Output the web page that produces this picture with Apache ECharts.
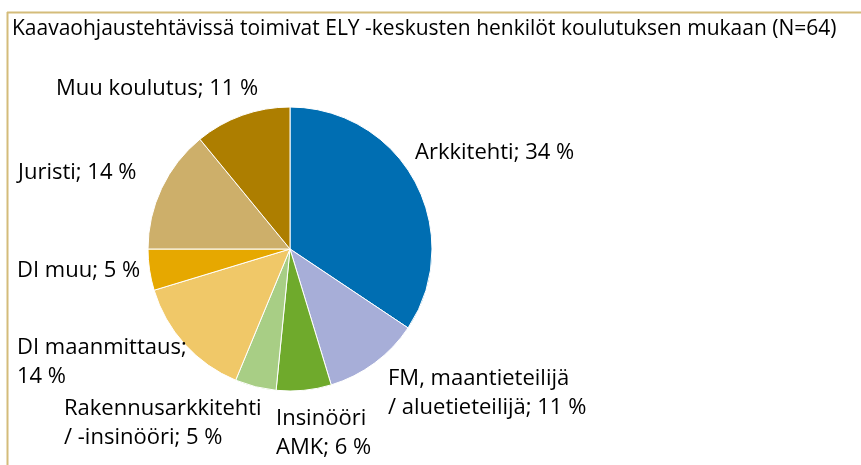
<!DOCTYPE html>
<html><head><meta charset="utf-8">
<script src="https://cdn.jsdelivr.net/npm/echarts@6/dist/echarts.min.js"></script>
<style>html,body{margin:0;padding:0;background:#fff}#c{width:861px;height:465px}</style>
</head><body><div id="c"></div>
<script>
var titleText = 'Kaavaohjaustehtävissä toimivat ELY -keskusten henkilöt koulutuksen mukaan (N=64)';
var categories = ['Arkkitehti', 'FM, maantieteilijä\n/ aluetieteilijä', 'Insinööri\nAMK', 'Rakennusarkkitehti\n/ -insinööri', 'DI maanmittaus;\n', 'DI muu', 'Juristi', 'Muu koulutus'];
var counts = [22, 7, 4, 3, 9, 3, 9, 7];
var percentLabels = ['34 %', '11 %', '6 %', '5 %', '14 %', '5 %', '14 %', '11 %'];
var colors = ['#006EB2', '#A7AED8', '#6FAA2C', '#A8CE85', '#F0C868', '#E6A800', '#CDAF6A', '#AD7E00'];
var labelPos = [[415,138],[388,364],[276,404],[64,394],[17,333],[17,256],[18,158],[56,74]];

var chart = echarts.init(document.getElementById('c'));
var FONT = '"Open Sans", sans-serif';
chart.setOption({
  animation: false,
  title: { text: titleText, left: 12, top: 16, padding: 0, textStyle: { fontFamily: FONT, fontSize: 21, fontWeight: 'normal', color: '#000', lineHeight: 26 } },
  graphic: [
    { type: 'line', shape: { x1: 7, y1: 12.5, x2: 861, y2: 12.5 }, style: { stroke: '#D4BC7A', lineWidth: 2 } },
    { type: 'line', shape: { x1: 7.5, y1: 12, x2: 7.5, y2: 465 }, style: { stroke: '#D4BC7A', lineWidth: 2 } }
  ],
  series: [{
    type: 'pie',
    center: [290, 249],
    radius: 142,
    startAngle: 90,
    clockwise: true,
    color: colors,
    itemStyle: { borderColor: '#fff', borderWidth: 1 },
    label: {
      show: true, position: 'outside', fontFamily: FONT, fontSize: 22, color: '#000', lineHeight: 29,
      overflow: 'none', width: 400,
      formatter: function (p) {
        var n = categories[p.dataIndex];
        if (n.slice(-2) === ';\n') return n + percentLabels[p.dataIndex];
        return n + '; ' + percentLabels[p.dataIndex];
      }
    },
    labelLine: { show: false },
    labelLayout: function (p) {
      var q = labelPos[p.dataIndex];
      return { x: q[0], y: q[1], align: 'left', verticalAlign: 'top' };
    },
    data: counts.map(function (v, i) { return { name: categories[i], value: v }; })
  }]
});
</script></body></html>
